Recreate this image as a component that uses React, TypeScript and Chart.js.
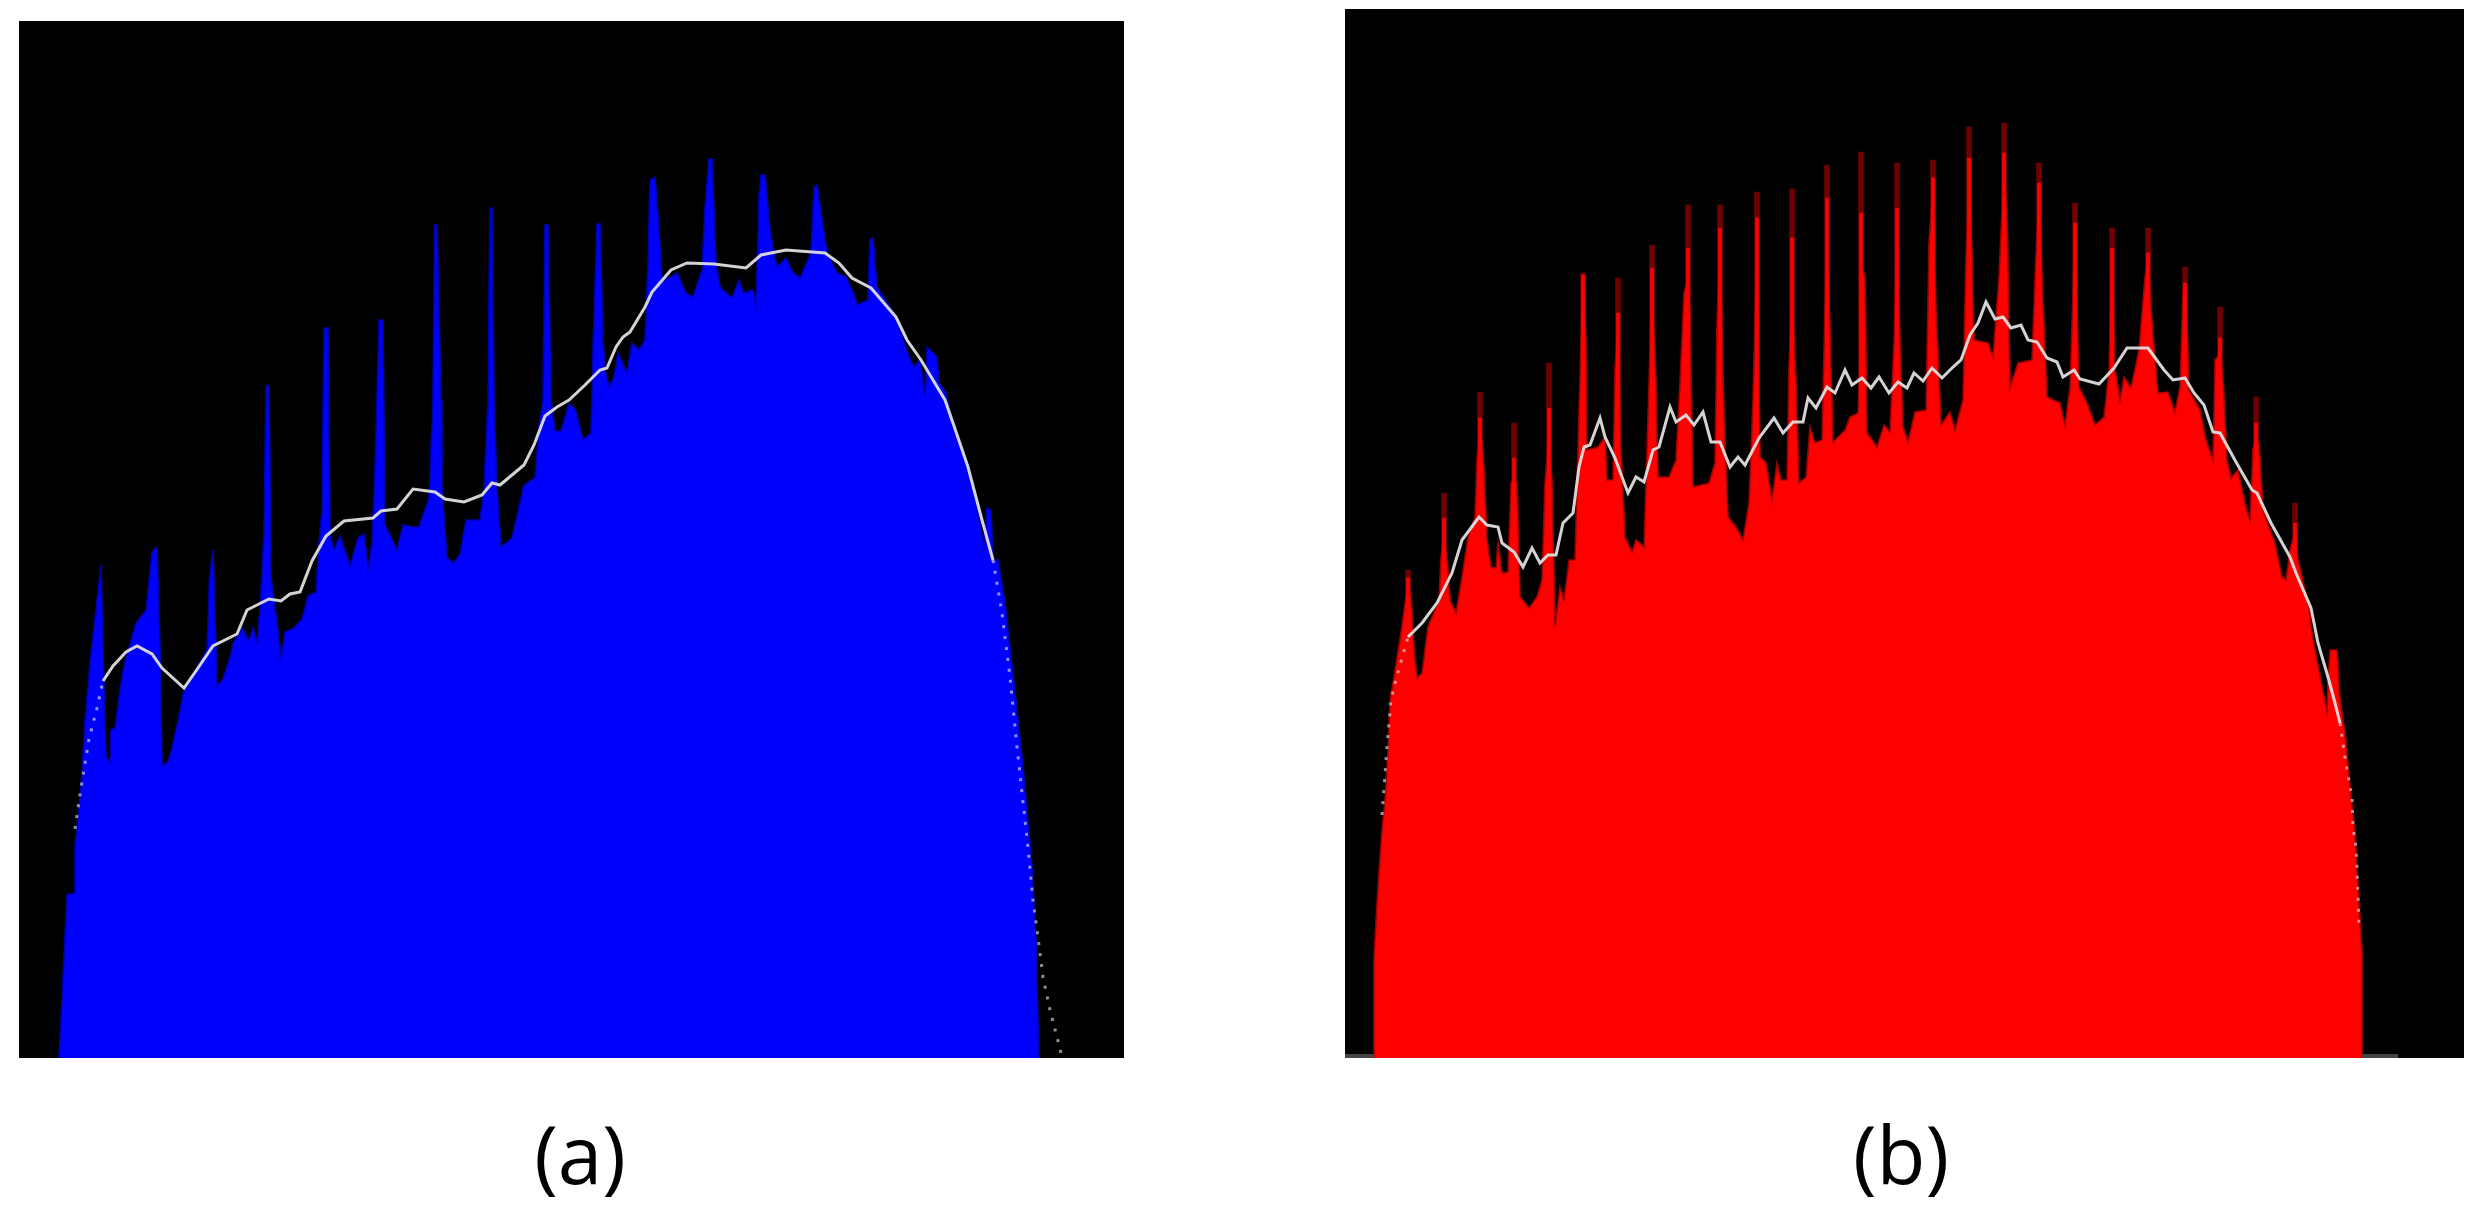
import React, { useEffect, useRef } from "react";
import { Chart, registerables } from "chart.js";

Chart.register(...registerables);

type Pair = [number, number | null];

// Panel (a): spectrum envelope as [bin, magnitude]
const aEnvelope: Pair[] = [
  [59,0],[61,38],[67,163],[75,165],[75,212],[81,270],[85,337],[90,395],[97,457],[101,493],[103.5,390],[106,301],[110,296],[111,328],[115,330],[120,368],[124.5,395],[136,435],[146,448],[152,506],[157,511],[160,408],[162,292],[168,296],[172,310],[178,337],[184,368],[207,408],[209.5,480],[213,508],[215,444],[217,372],[223,379],[231,404],[233,415],[239,424],[242,430],[249,417],[253,430],[257,415],[260,448],[264,524],[266,672],[269,672],[271,480],[277,435],[281,399],[285,426],[294,430],[302,439],[308,462],[316,466],[319,515],[322,547],[324,730],[328,730],[330,524],[334,508],[340,522],[350,492],[358,520],[364,524],[368,489],[372,515],[375,588],[379,738],[383,738],[385,533],[397,508],[403,533],[413,531],[419,531],[429,560],[433,658],[434.5,833],[437,833],[441,658],[442,569],[447,500],[454,495],[460,504],[466,538],[480,538],[484,569],[488,658],[490,850],[492,850],[494,658],[497,569],[501,511],[512,520],[524,573],[535,580],[539,631],[543,658],[545,833],[548,833],[551,658],[555,627],[561,627],[569,654],[575,649],[583,618],[591,625],[593,708],[597,834],[600,834],[603,718],[605,688],[609,671],[614,681],[618,705],[627,685],[632,715],[639,708],[645,718],[648,795],[650,878],[655,881],[659,828],[662,778],[671,781],[677,785],[686,765],[693,761],[702,788],[705,851],[709,899],[712,899],[716,795],[720,771],[732,760],[739,778],[743,765],[753,768],[756,753],[759,861],[761,883],[765,883],[770,828],[774,805],[777,791],[786,800],[793,785],[800,780],[811,805],[814,871],[817,873],[821,845],[827,805],[837,785],[846,781],[855,761],[857,753],[868,758],[870,818],[873,820],[877,771],[896,741],[909,701],[914,691],[920,698],[925,661],[927,711],[937,701],[939,675],[946,665],[952,635],[961,611],[971,578],[980,535],[984,511],[987,550],[991,548],[993,498],[998,498],[1005,455],[1015,365],[1023,291],[1032,191],[1036,115],[1037,71],[1039,0],
];
const aCurveLeft: Pair[] = [[75,229],[81,270],[89,319],[97,350],[103,377]];
const aCurve: Pair[] = [
  [103,377],[113,392],[126,406],[137,412],[152,404],[162,390],[184,370],[198,390],[213,412],[237,424],[247,448],[269,459],[281,457],[290,464],[300,466],[312,497],[326,522],[344,537],[373,540],[381,547],[397,549],[413,569],[435,566],[445,559],[464,556],[482,563],[492,575],[500,573],[524,593],[534,613],[545,642],[557,651],[569,658],[585,673],[600,688],[607,690],[616,711],[623,721],[630,726],[645,751],[652,766],[671,788],[687,795],[714,794],[746,790],[761,803],[786,808],[825,805],[839,795],[852,780],[871,770],[896,741],[907,718],[921,698],[945,658],[953,635],[968,591],[982,538],[993,498],
];
const aCurveRight: Pair[] = [[993,498],[1002,445],[1010,381],[1017,311],[1022,265],[1028,211],[1033,158],[1038,121],[1043,81],[1050,48],[1057,21],[1062,1]];

// Panel (b)
const bEnvelope: Pair[] = [
  [1374,0],[1374,101],[1378,171],[1382,228],[1385,258],[1388,308],[1390,358],[1393,375],[1401,425],[1406,462],[1408,475],[1411,462],[1414,408],[1417,380],[1422,385],[1428,431],[1439,458],[1441,500],[1444,525],[1447,500],[1450,458],[1456,445],[1462,481],[1468,521],[1475,541],[1477,600],[1480,631],[1483,608],[1487,518],[1491,491],[1496,490],[1498,515],[1502,485],[1508,486],[1511,575],[1514,581],[1517,575],[1520,461],[1529,450],[1537,461],[1542,478],[1545,575],[1549,628],[1552,575],[1555,431],[1560,471],[1564,458],[1569,498],[1575,498],[1577,575],[1581,715],[1583,783],[1586,715],[1587,608],[1598,611],[1605,621],[1607,578],[1613,578],[1615,691],[1618,728],[1621,608],[1625,521],[1632,506],[1636,518],[1644,511],[1647,608],[1650,708],[1652,768],[1655,708],[1658,581],[1669,581],[1676,598],[1680,675],[1684,765],[1688,780],[1690,741],[1693,571],[1709,575],[1715,595],[1717,735],[1720,813],[1724,641],[1728,541],[1736,531],[1743,518],[1749,555],[1753,658],[1757,818],[1760,601],[1766,595],[1772,558],[1777,595],[1781,578],[1787,578],[1789,691],[1792,765],[1796,675],[1799,575],[1806,581],[1810,631],[1815,615],[1822,618],[1824,708],[1827,823],[1830,725],[1833,616],[1845,628],[1850,641],[1858,645],[1860,700],[1861,793],[1865,781],[1867,625],[1877,611],[1884,633],[1890,626],[1894,715],[1897,823],[1900,715],[1903,631],[1908,616],[1915,646],[1926,648],[1929,815],[1933,873],[1936,748],[1941,633],[1950,646],[1955,628],[1963,658],[1966,805],[1969,875],[1972,805],[1974,718],[1988,715],[1993,701],[1999,781],[2004,891],[2007,848],[2010,671],[2018,695],[2032,698],[2036,805],[2039,866],[2042,781],[2047,661],[2060,655],[2065,633],[2070,671],[2075,828],[2079,671],[2087,655],[2095,633],[2104,641],[2109,688],[2112,805],[2115,688],[2120,658],[2124,681],[2131,670],[2139,708],[2145,781],[2148,801],[2152,735],[2158,665],[2168,666],[2175,646],[2180,671],[2183,768],[2186,768],[2189,668],[2200,648],[2206,618],[2213,598],[2215,698],[2220,705],[2223,681],[2227,598],[2231,580],[2238,588],[2246,550],[2250,538],[2253,610],[2256,621],[2259,615],[2263,548],[2275,515],[2282,481],[2286,478],[2290,508],[2295,528],[2298,498],[2309,451],[2312,425],[2317,398],[2322,371],[2327,346],[2328,375],[2330,408],[2337,408],[2340,358],[2345,325],[2350,271],[2355,225],[2358,171],[2362,105],[2362,0],
];
const bSpikeBins = [1408,1444,1480,1514,1549,1583,1618,1652,1688,1720,1757,1792,1827,1861,1897,1933,1969,2004,2039,2075,2112,2148,2185,2220,2256,2295,2334];
const bSpikeTops = [488,565,666,635,695,785,780,813,853,853,866,869,893,906,895,898,931,935,895,855,830,830,791,751,661,555,408];
const bSpikeCores = [480,540,640,600,650,783,745,790,810,830,840,820,860,845,850,880,900,905,875,835,810,805,775,720,635,535,400];
const bCurveLeft: Pair[] = [[1382,243],[1387,311],[1391,358],[1395,375],[1408,421]];
const bCurve: Pair[] = [
  [1408,421],[1422,435],[1437,455],[1452,485],[1462,518],[1479,541],[1487,533],[1498,531],[1502,515],[1514,506],[1523,491],[1532,510],[1540,495],[1548,503],[1556,503],[1563,535],[1573,545],[1579,591],[1584,611],[1590,613],[1600,640],[1605,621],[1615,600],[1628,565],[1636,581],[1644,576],[1653,608],[1659,611],[1670,651],[1676,636],[1686,643],[1694,633],[1703,646],[1711,616],[1720,616],[1730,591],[1738,601],[1745,593],[1759,620],[1774,640],[1783,625],[1793,636],[1803,636],[1808,660],[1816,650],[1827,671],[1835,665],[1845,688],[1852,673],[1862,680],[1871,670],[1879,681],[1889,665],[1898,676],[1907,670],[1914,685],[1923,677],[1932,690],[1942,680],[1953,691],[1961,698],[1970,723],[1978,735],[1986,756],[1995,739],[2003,741],[2011,730],[2021,733],[2028,718],[2037,716],[2047,700],[2057,696],[2063,681],[2074,688],[2080,679],[2099,674],[2114,690],[2127,710],[2148,710],[2164,688],[2173,678],[2185,680],[2194,665],[2204,653],[2213,626],[2220,625],[2236,596],[2252,568],[2257,565],[2271,535],[2290,501],[2296,485],[2311,450],[2318,415],[2328,381],[2335,355],[2340,335],
];
const bCurveRight: Pair[] = [[2340,335],[2343,315],[2347,288],[2352,261],[2353,231],[2356,211],[2357,190],[2358,163],[2359,130]];
const bBaseline: Pair[] = [[1345,2],[1374,2],[1374,null],[2362,null],[2362,2],[2398,2]];

const aBins = [19, 1124];
const bBins = [1345, 2464];
const panelLabels = ["(a)", "(b)"];

const pts = (p: Pair[]) => p.map(([x, y]) => ({ x, y }));
const zipPts = (xs: number[], ys: number[]) => xs.map((x, i) => ({ x, y: ys[i] }));

const curveDs = (data: Pair[], order: number, dotted: boolean) => ({
  type: "line" as const,
  data: pts(data),
  borderColor: dotted ? "rgba(205,205,220,0.7)" : "rgba(222,222,222,0.95)",
  borderWidth: dotted ? 3 : 3,
  borderDash: dotted ? [3, 8] : [],
  pointRadius: 0,
  fill: false,
  tension: 0,
  order,
});

const areaDs = (data: Pair[], color: string, edge: string, order: number) => ({
  type: "line" as const,
  data: pts(data),
  borderColor: edge,
  borderWidth: 1.6,
  backgroundColor: color,
  pointRadius: 0,
  fill: "origin",
  tension: 0,
  order,
});

function Panel({ style, bins, height, datasets }: any) {
  const ref = useRef<HTMLCanvasElement>(null);
  useEffect(() => {
    const chart = new Chart(ref.current!, {
      type: "line",
      data: { datasets },
      options: {
        animation: false,
        responsive: false,
        layout: { padding: 0 },
        plugins: { legend: { display: false }, tooltip: { enabled: false } },
        scales: {
          x: { type: "linear", min: bins[0], max: bins[1], display: false, offset: false },
          y: { type: "linear", min: 0, max: height, display: false },
        },
      },
    } as any);
    return () => chart.destroy();
  }, []);
  return (
    <canvas
      ref={ref}
      width={bins[1] - bins[0]}
      height={height}
      style={{ position: "absolute", background: "#000", display: "block", ...style }}
    />
  );
}

const labelStyle: React.CSSProperties = {
  position: "absolute",
  fontFamily: '"Open Sans", "Noto Sans", sans-serif',
  fontSize: 80,
  lineHeight: "110px",
  color: "#000",
  transform: "translateX(-50%)",
  whiteSpace: "nowrap",
};

export default function App() {
  const aSets = [
    areaDs(aEnvelope, "#0000ff", "#0000b0", 3),
    curveDs(aCurve, 1, false),
    curveDs(aCurveLeft, 1, true),
    curveDs(aCurveRight, 1, true),
  ];
  const bSets = [
    {
      type: "bar" as const,
      data: zipPts(bSpikeBins, bSpikeTops),
      backgroundColor: "#6e0000",
      barThickness: 5,
      grouped: false,
      order: 5,
    },
    areaDs(bEnvelope, "#ff0000", "#a00000", 4),
    {
      type: "bar" as const,
      data: zipPts(bSpikeBins, bSpikeCores),
      backgroundColor: "#ff0000",
      barThickness: 3,
      grouped: false,
      order: 3,
    },
    {
      type: "line" as const,
      data: pts(bBaseline),
      borderColor: "#444444",
      borderWidth: 4,
      pointRadius: 0,
      spanGaps: false,
      order: 2,
    },
    curveDs(bCurve, 1, false),
    curveDs(bCurveLeft, 1, true),
    curveDs(bCurveRight, 1, true),
  ];
  return (
    <div style={{ position: "absolute", left: 0, top: 0, width: 2473, height: 1213, background: "#fff", overflow: "hidden" }}>
      <Panel style={{ left: 19, top: 21 }} bins={aBins} height={1037} datasets={aSets} />
      <Panel style={{ left: 1345, top: 9 }} bins={bBins} height={1049} datasets={bSets} />
      <div style={{ ...labelStyle, left: 580, top: 1098 }}>{panelLabels[0]}</div>
      <div style={{ ...labelStyle, left: 1901, top: 1098 }}>{panelLabels[1]}</div>
    </div>
  );
}
